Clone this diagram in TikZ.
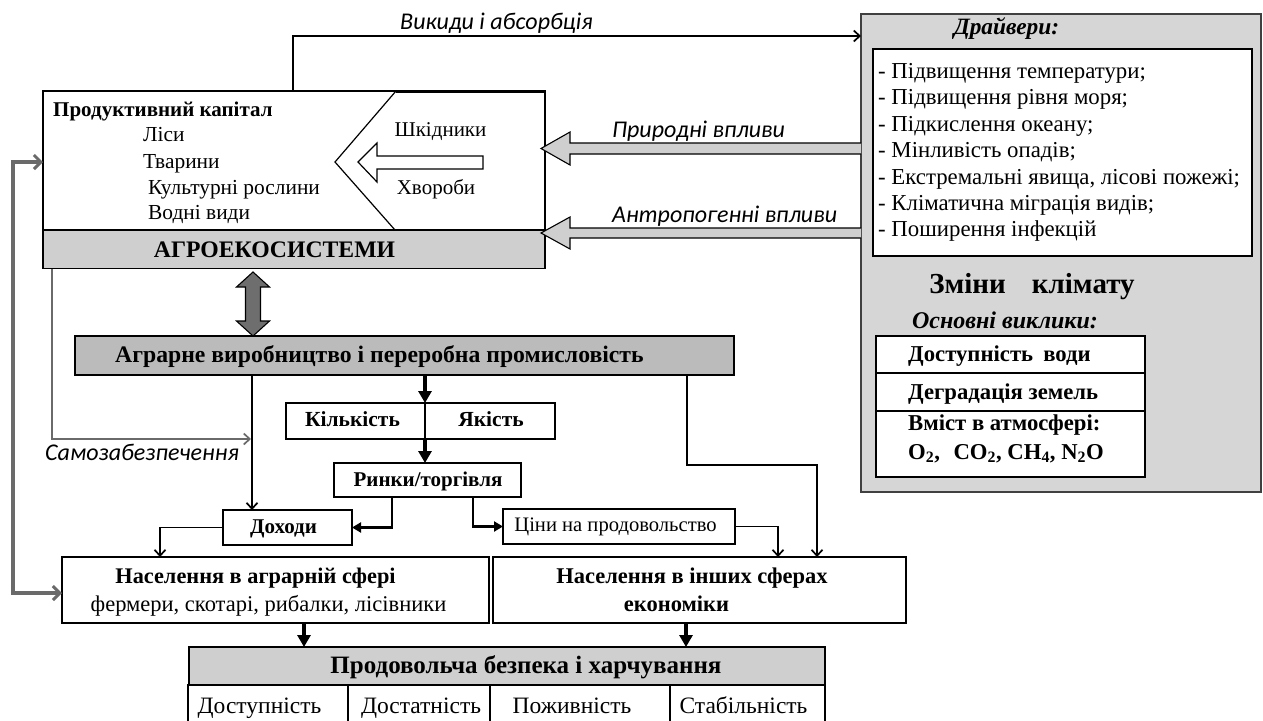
\documentclass[tikz,border=0pt]{standalone}
\usepackage{fontspec}
\setmainfont{Liberation Serif}
\newfontfamily\labfont{Carlito}
\usetikzlibrary{arrows.meta,calc}
\definecolor{bandgray}{HTML}{CFCFCF}
\definecolor{agrgray}{HTML}{BBBBBB}
\definecolor{drvgray}{HTML}{D6D6D6}
\definecolor{darkarrow}{HTML}{6E6E6E}
\definecolor{linegray}{HTML}{6A6A6A}
\begin{document}
\begin{tikzpicture}[x=1pt,y=-1pt,
  box/.style={draw, line width=1.3pt, inner sep=0pt, outer sep=0pt},
  t/.style={inner sep=0pt, anchor=base, font=\fontsize{#1}{#1}\selectfont},
  tb/.style={inner sep=0pt, anchor=base, font=\fontsize{#1}{#1}\selectfont\bfseries},
  tbi/.style={inner sep=0pt, anchor=base, font=\fontsize{#1}{#1}\selectfont\bfseries\itshape},
  lab/.style={inner sep=0pt, anchor=base west, font=\labfont\itshape\fontsize{24}{24}\selectfont},
  thinarr/.style={line width=1.7pt, -{Straight Barb[length=6pt,width=11pt,line width=1.7pt]}},
  midarr/.style={line width=2.6pt, -{Triangle[length=9pt,width=10pt]}},
  fatarr/.style={line width=4pt, -{Triangle[length=12pt,width=13pt]}},
  grayarr/.style={draw=linegray, line width=1.7pt, -{Straight Barb[length=6pt,width=11pt,line width=1.7pt]}},
  outerarr/.style={draw=linegray, line width=3.2pt, {Straight Barb[length=7pt,width=14pt,line width=3pt]}-{Straight Barb[length=7pt,width=14pt,line width=3pt]}},
  shapeln/.style={line width=1.2pt}
]
\useasboundingbox (0,0) rectangle (1263,720);
\fill[white] (0,0) rectangle (1263,720);

% ---------- agroecosystem box ----------
\node[box, minimum width=502, minimum height=177] (eco) at (294,179.5) {};
\node[box, fill=bandgray, minimum width=502, minimum height=38.5] (band) at (294,249.25) {};
\node[tb=23.7] (bandtxt) at (274.5,257.8) {АГРОЕКОСИСТЕМИ};
\node[tb=21, anchor=base west] (cap) at (53,116) {Продуктивний капітал};
\node[t=21.4, anchor=base west] (les) at (143,141) {Ліси};
\node[t=21.4, anchor=base west] (tvar) at (143,168) {Тварини};
\node[t=21.4, anchor=base west] (kult) at (148,194) {Культурні рослини};
\node[t=21.4, anchor=base west] (vod) at (148,219) {Водні види};
\draw[shapeln] (396,91) -- (335,162) -- (395,230);
\draw[line width=2.4pt] (396,91.5) -- (545,91.5);
\draw[shapeln] (358,162) -- (377,143) -- (377,156) -- (483,156) -- (483,169) -- (377,169) -- (377,182) -- cycle;
\node[t=21] (shk) at (440.5,136) {Шкідники};
\node[t=21] (khv) at (436,194) {Хвороби};

% ---------- drivers box ----------
\node[box, draw=black!75, fill=drvgray, minimum width=400, minimum height=478] (drv) at (1061,253) {};
\node[tbi=23.4] (drvt) at (1006.5,34.5) {Драйвери:};
\node[box, fill=white, minimum width=379, minimum height=207] (drvin) at (1062.5,152.5) {};
\node[t=22.8, anchor=base west] (d1) at (878,78.4) {- Підвищення температури;};
\node[t=22.8, anchor=base west] (d2) at (878,104.8) {- Підвищення рівня моря;};
\node[t=22.8, anchor=base west] (d3) at (878,131.2) {- Підкислення океану;};
\node[t=22.8, anchor=base west] (d4) at (878,157.6) {- Мінливість опадів;};
\node[t=22.8, anchor=base west] (d5) at (878,184) {- Екстремальні явища, лісові пожежі;};
\node[t=22.8, anchor=base west] (d6) at (878,210.4) {- Кліматична міграція видів;};
\node[t=22.8, anchor=base west] (d7) at (878,236.8) {- Поширення інфекцій};
\node[tb=29] (zmin) at (1032,293) {Зміни\hspace{0.9em}клімату};
\node[tbi=24] (osn) at (1005,328.7) {Основні виклики:};
\node[box, fill=white, minimum width=269, minimum height=37] (t1) at (1010.5,354.5) {};
\node[box, fill=white, minimum width=269, minimum height=38] (t2) at (1010.5,392) {};
\node[box, fill=white, minimum width=269, minimum height=66] (t3) at (1010.5,444) {};
\node[tb=22.7, anchor=base west] (t1t) at (908,361) {Доступність\hspace{0.45em}води};
\node[tb=22.7, anchor=base west] (t2t) at (908,399) {Деградація земель};
\node[tb=22.7, anchor=base west] (t3a) at (908,430) {Вміст в атмосфері:};
\node[tb=22.7, anchor=base west] (t3b) at (908,459) {O\textsubscript{2},\hspace{0.6em}CO\textsubscript{2}, CH\textsubscript{4}, N\textsubscript{2}O};

% ---------- influence arrows ----------
\filldraw[fill=bandgray, draw=black, line width=1.1pt] (861,143) -- (570,143) -- (570,132) -- (541,148.5) -- (570,165) -- (570,154) -- (861,154);
\filldraw[fill=bandgray, draw=black, line width=1.1pt] (861,228) -- (570,228) -- (570,217) -- (541,233) -- (570,249) -- (570,238) -- (861,238);
\node[lab] (prl) at (612,137) {Природні впливи};
\node[lab] (anl) at (612,222) {Антропогенні впливи};
\node[lab] (vyk) at (400,29) {Викиди і абсорбція};
\coordinate (topx) at (293,0);
\coordinate (topy) at (0,36);
\draw[thinarr, line width=2pt] (eco.north -| topx) |- (drv.west |- topy);

% ---------- agrarian production ----------
\node[box, fill=agrgray, minimum width=659, minimum height=39] (agr) at (404.5,355.5) {};
\node[tb=23.7, anchor=base west] (agrt) at (115,362.6) {Аграрне виробництво і переробна промисловість};
\filldraw[fill=darkarrow, draw=black, line width=1.1pt] (253,272) -- (269.5,287) -- (260.5,287) -- (260.5,321) -- (269.5,321) -- (253,336) -- (236.5,321) -- (245.5,321) -- (245.5,287) -- (236.5,287) -- cycle;

\node[box, minimum width=139, minimum height=36] (kil) at (355.5,421) {};
\node[box, minimum width=130, minimum height=36] (yak) at (490,421) {};
\node[tb=21.5] (kilt) at (352.5,426) {Кількість};
\node[tb=21.5] (yakt) at (491,426) {Якість};
\node[box, minimum width=187, minimum height=34] (rin) at (427.5,480) {};
\node[tb=21] (rint) at (428,486) {Ринки/торгівля};
\node[box, minimum width=129, minimum height=35] (doh) at (287.5,527.5) {};
\node[tb=21] (doht) at (283.5,533) {Доходи};
\node[box, minimum width=232, minimum height=35] (cin) at (619,526.5) {};
\node[t=20.6] (cint) at (615.5,531.6) {Ціни на продовольство};

\node[box, minimum width=427, minimum height=66] (nas1) at (275.5,590) {};
\node[tb=22.3] (nas1a) at (255.5,583) {Населення в аграрній сфері};
\node[t=22.5] (nas1b) at (268.5,611) {фермери, скотарі, рибалки, лісівники};
\node[box, minimum width=413, minimum height=66] (nas2) at (699.5,590) {};
\node[tb=22.5] (nas2a) at (692,583) {Населення в інших сферах};
\node[tb=22.5] (nas2b) at (676.5,611) {економіки};

\node[box, fill=bandgray, minimum width=636, minimum height=38] (prod) at (507,666) {};
\node[tb=25] (prodt) at (526,673) {Продовольча безпека і харчування};
\node[box, minimum width=160, minimum height=37] (c1) at (268,703.5) {};
\node[box, minimum width=142, minimum height=37] (c2) at (419,703.5) {};
\node[box, minimum width=180, minimum height=37] (c3) at (580,703.5) {};
\node[box, minimum width=155, minimum height=37] (c4) at (747.5,703.5) {};
\node[t=23.5] (c1t) at (259.5,713) {Доступність};
\node[t=23.5] (c2t) at (421,713) {Достатність};
\node[t=23.5] (c3t) at (572,713) {Поживність};
\node[t=23.5] (c4t) at (743.5,713) {Стабільність};

% ---------- connectors ----------
\coordinate (ssx) at (52,0);
\coordinate (ssy) at (251,439);
\draw[grayarr] (band.south -| ssx) |- (ssy);
\node[lab] (samo) at (45,460) {Самозабезпечення};
\coordinate (ox) at (13,593);
\coordinate (oy) at (0,162);
\draw[outerarr] (eco.west |- oy) -| (ox) -- (nas1.west |- ox);

\coordinate (dx) at (252,0);
\draw[thinarr] (agr.south -| dx) -- (doh.north -| dx);
\draw[fatarr] (agr.south -| kil.east) -- (kil.north east);
\draw[fatarr] (kil.south east) -- (rin.north -| kil.east);
\coordinate (r1) at (392,0);
\coordinate (r2) at (473,0);
\draw[midarr] (rin.south -| r1) |- (doh.east);
\draw[midarr] (rin.south -| r2) |- (cin.west);
\coordinate (c5) at (778,0);
\draw[thinarr] (cin.east) -| (nas2.north -| c5);
\coordinate (a3) at (687,0);
\coordinate (a4) at (817,465);
\draw[thinarr] (agr.south -| a3) |- (a4) -- (nas2.north -| a4);
\coordinate (hx) at (160,0);
\draw[thinarr] (doh.west) -| (nas1.north -| hx);
\coordinate (p1) at (304,0);
\coordinate (p2) at (686,0);
\draw[fatarr] (nas1.south -| p1) -- (prod.north -| p1);
\draw[fatarr] (nas2.south -| p2) -- (prod.north -| p2);
\end{tikzpicture}
\end{document}
